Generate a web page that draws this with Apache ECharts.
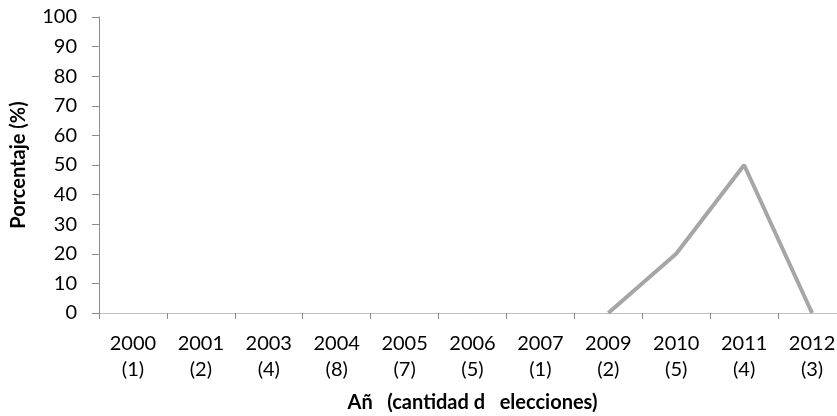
<!DOCTYPE html>
<html><head><meta charset="utf-8">
<script src="https://cdn.jsdelivr.net/npm/echarts@6/dist/echarts.min.js"></script>
<style>html,body{margin:0;padding:0;background:#fff}#c{width:837px;height:416px}</style>
</head><body><div id="c"></div>
<script>
const years = ['2000','2001','2003','2004','2005','2006','2007','2009','2010','2011','2012'];
const counts = ['1','2','4','8','7','5','1','2','5','4','3'];
const percentages = [null,null,null,null,null,null,null,0,20,50,0];
const yTicks = {min:0, max:100, interval:10};
const xTitle = 'Añ   (cantidad d   elecciones)';
const yTitle = 'Porcentaje (%)';

const categories = years.map((y,i)=> y + '\n(' + counts[i] + ')');
const font = 'Lato, "Open Sans", sans-serif';
const chart = echarts.init(document.getElementById('c'), null, {renderer:'canvas'});
chart.setOption({
  animation:false,
  grid:{left:99, width:747, top:17, height:296, containLabel:false, outerBoundsMode:'none'},
  xAxis:{
    type:'category', data:categories, boundaryGap:true,
    name:xTitle, nameLocation:'middle', nameGap:80,
    nameTextStyle:{fontFamily:font, fontSize:20, fontWeight:'bold', color:'#000'},
    axisLine:{lineStyle:{color:'#bfbfbf', width:1}},
    axisTick:{show:true, alignWithLabel:false, length:6, lineStyle:{color:'#8c8c8c'}},
    axisLabel:{fontFamily:font, fontSize:20, color:'#000', lineHeight:26, margin:18, interval:0}
  },
  yAxis:{
    type:'value', min:yTicks.min, max:yTicks.max, interval:yTicks.interval,
    name:yTitle, nameLocation:'middle', nameGap:70, nameRotate:90,
    nameTextStyle:{fontFamily:font, fontSize:20, fontWeight:'bold', color:'#000'},
    axisLine:{show:true, lineStyle:{color:'#8c8c8c', width:1}},
    axisTick:{show:true, length:7, lineStyle:{color:'#8c8c8c'}},
    splitLine:{show:false},
    axisLabel:{fontFamily:font, fontSize:20, color:'#000', margin:22}
  },
  series:[{
    type:'line', data:percentages, showSymbol:false, symbol:'none',
    connectNulls:false,
    lineStyle:{color:'#a6a6a6', width:4}
  }]
});
</script></body></html>
